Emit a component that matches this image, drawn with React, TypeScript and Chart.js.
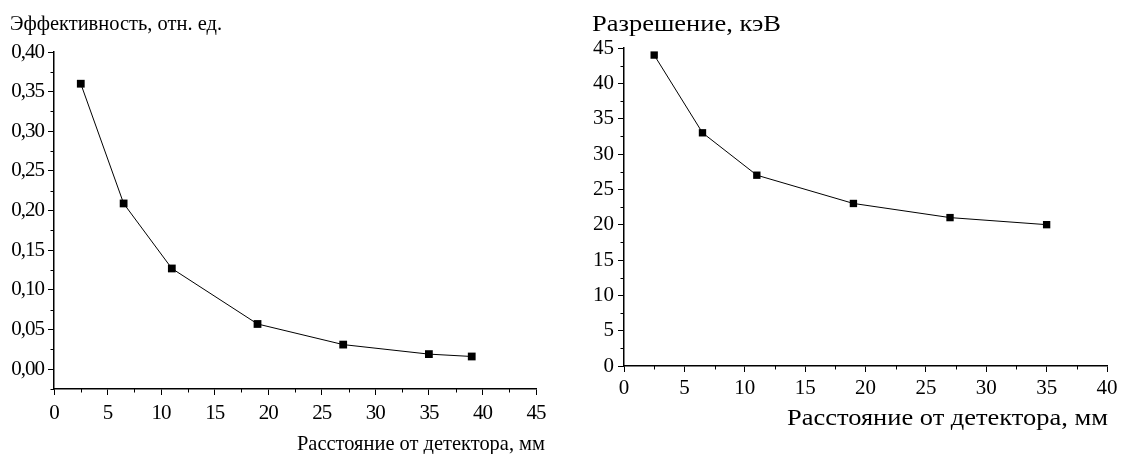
import React, { useEffect, useRef } from 'react';
import { Chart, registerables } from 'chart.js';

Chart.register(...registerables);

// ---- data ----
const EFF_DIST = [2.5, 6.5, 11, 19, 27, 35, 39];
const EFF_VALUES = [0.36, 0.209, 0.127, 0.057, 0.031, 0.019, 0.016];
const RES_DIST = [2.5, 6.5, 11, 19, 27, 35];
const RES_VALUES = [44, 33, 27, 23, 21, 20];

const EFF_X_TICKS = [0, 5, 10, 15, 20, 25, 30, 35, 40, 45];
const EFF_Y_TICKS = [0, 0.05, 0.1, 0.15, 0.2, 0.25, 0.3, 0.35, 0.4];
const RES_X_TICKS = [0, 5, 10, 15, 20, 25, 30, 35, 40];
const RES_Y_TICKS = [0, 5, 10, 15, 20, 25, 30, 35, 40, 45];

const EFF_Y_TITLE = 'Эффективность, отн. ед.';
const RES_Y_TITLE = 'Разрешение, кэВ';
const X_TITLE = 'Расстояние от детектора, мм';

const FAMILY = '"Liberation Serif", "Times New Roman", serif';

function drawFitted(ctx: any, text: string, font: string, x: number, y: number, width: number, alignRight: boolean) {
  ctx.save();
  ctx.letterSpacing = '0px';
  ctx.font = font;
  ctx.textAlign = 'left';
  ctx.textBaseline = 'alphabetic';
  const w = ctx.measureText(text).width;
  const sx = width / w;
  ctx.translate(alignRight ? x - width : x, y);
  ctx.scale(sx, 1);
  ctx.fillText(text, 0, 0);
  ctx.restore();
}

const decorPlugin = {
  id: 'decor',
  beforeUpdate(chart: any, _a: any, o: any) {
    chart.ctx.letterSpacing = o.letterSpacing || '0px';
  },
  beforeDraw(chart: any, _a: any, o: any) {
    chart.ctx.letterSpacing = o.letterSpacing || '0px';
  },
  afterDraw(chart: any, _a: any, o: any) {
    const { ctx, chartArea, scales } = chart;
    const xs = scales.x;
    const ys = scales.y;
    ctx.save();
    ctx.strokeStyle = '#000';
    ctx.lineWidth = 1;
    const xt: number[] = o.xTicks;
    const yt: number[] = o.yTicks;
    ctx.beginPath();
    for (let i = 0; i < xt.length - 1; i++) {
      const px = Math.round(xs.getPixelForValue((xt[i] + xt[i + 1]) / 2)) + 0.5;
      ctx.moveTo(px, chartArea.bottom);
      ctx.lineTo(px, chartArea.bottom + o.minorLen);
    }
    const ystep = yt[1] - yt[0];
    const ymid = [yt[0] - ystep / 2, ...yt.slice(0, -1).map((v, i) => (v + yt[i + 1]) / 2)];
    for (const v of ymid) {
      if (v < ys.min || v > ys.max) continue;
      const py = Math.round(ys.getPixelForValue(v)) + 0.5;
      ctx.moveTo(chartArea.left, py);
      ctx.lineTo(chartArea.left - o.minorLen, py);
    }
    ctx.stroke();
    ctx.fillStyle = '#000';
    drawFitted(ctx, o.yTitle, o.yTitleFont, o.yTitleX, o.yTitleY, o.yTitleW, false);
    drawFitted(ctx, o.xTitle, o.xTitleFont, o.xTitleX, o.xTitleY, o.xTitleW, true);
    ctx.restore();
  },
};

function buildConfig(p: any): any {
  return {
    type: 'line',
    data: {
      datasets: [
        {
          data: p.xs.map((x: number, i: number) => ({ x, y: p.ys[i] })),
          borderColor: '#000',
          borderWidth: 1,
          backgroundColor: '#000',
          pointStyle: 'rect',
          pointRadius: p.pointRadius,
          pointBorderWidth: 0,
          pointBackgroundColor: '#000',
          pointBorderColor: '#000',
          tension: 0,
          fill: false,
        },
      ],
    },
    options: {
      responsive: false,
      animation: false,
      events: [],
      layout: { padding: { left: 0, top: p.padTop, right: p.padRight, bottom: 0 } },
      plugins: {
        legend: { display: false },
        tooltip: { enabled: false },
        title: { display: false },
        decor: {
          xTicks: p.xTicks,
          yTicks: p.yTicks,
          minorLen: 3.5,
          letterSpacing: p.letterSpacing,
          yTitle: p.yTitle,
          yTitleFont: p.yTitleFont,
          yTitleX: p.yTitleX,
          yTitleY: p.yTitleY,
          yTitleW: p.yTitleW,
          xTitle: X_TITLE,
          xTitleFont: p.xTitleFont,
          xTitleX: p.xTitleX,
          xTitleY: p.xTitleY,
          xTitleW: p.xTitleW,
        },
      },
      scales: {
        x: {
          type: 'linear',
          position: 'bottom',
          min: p.xMin,
          max: p.xMax,
          afterBuildTicks: (s: any) => {
            s.ticks = p.xTicks.map((v: number) => ({ value: v }));
          },
          afterFit: (s: any) => {
            s.height = p.xHeight;
          },
          grid: { drawOnChartArea: false, drawTicks: true, tickLength: 6, tickColor: '#000', tickWidth: 1 },
          border: { color: '#000', width: 1.5 },
          ticks: {
            color: '#000',
            font: { family: FAMILY, size: p.tickSize },
            padding: p.xPad,
            maxRotation: 0,
            autoSkip: false,
            callback: (v: number) => String(v),
          },
        },
        y: {
          type: 'linear',
          position: 'left',
          min: p.yMin,
          max: p.yMax,
          afterBuildTicks: (s: any) => {
            s.ticks = p.yTicks.map((v: number) => ({ value: v }));
          },
          afterFit: (s: any) => {
            s.width = p.yWidth;
          },
          grid: { drawOnChartArea: false, drawTicks: true, tickLength: 6, tickColor: '#000', tickWidth: 1 },
          border: { color: '#000', width: 1.5 },
          ticks: {
            color: '#000',
            font: { family: FAMILY, size: p.tickSize },
            padding: 4,
            autoSkip: false,
            callback: p.yFormat,
          },
        },
      },
    },
    plugins: [decorPlugin],
  };
}

function ChartCanvas({ config, width, height }: { config: any; width: number; height: number }) {
  const ref = useRef<HTMLCanvasElement | null>(null);
  useEffect(() => {
    if (!ref.current) return;
    const chart = new Chart(ref.current, config);
    return () => chart.destroy();
  }, [config]);
  return <canvas ref={ref} width={width} height={height} style={{ display: 'block', width, height }} />;
}

const effConfig = buildConfig({
  xs: EFF_DIST,
  ys: EFF_VALUES,
  xTicks: EFF_X_TICKS,
  yTicks: EFF_Y_TICKS,
  xMin: 0,
  xMax: 45,
  yMin: -0.025,
  yMax: 0.4,
  padTop: 52,
  padRight: 24,
  xHeight: 65,
  yWidth: 54,
  tickSize: 21,
  xPad: 6,
  pointRadius: 5.5,
  letterSpacing: '-1px',
  yFormat: (v: number) => v.toFixed(2).replace('.', ','),
  yTitle: EFF_Y_TITLE,
  yTitleFont: `21px ${FAMILY}`,
  yTitleX: 10,
  yTitleY: 30,
  yTitleW: 212,
  xTitleFont: `22px ${FAMILY}`,
  xTitleX: 545,
  xTitleY: 450,
  xTitleW: 248,
});

const resConfig = buildConfig({
  xs: RES_DIST,
  ys: RES_VALUES,
  xTicks: RES_X_TICKS,
  yTicks: RES_Y_TICKS,
  xMin: 0,
  xMax: 40,
  yMin: 0,
  yMax: 45,
  padTop: 48,
  padRight: 22,
  xHeight: 88,
  yWidth: 64,
  tickSize: 21,
  xPad: 4,
  pointRadius: 5.2,
  letterSpacing: '0px',
  yFormat: (v: number) => String(v),
  yTitle: RES_Y_TITLE,
  yTitleFont: `23px ${FAMILY}`,
  yTitleX: 32,
  yTitleY: 31,
  yTitleW: 189,
  xTitleFont: `23px ${FAMILY}`,
  xTitleX: 548,
  xTitleY: 425,
  xTitleW: 321,
});

export default function App() {
  return (
    <div style={{ position: 'absolute', left: 0, top: 0, width: 1129, height: 454, background: '#fff', display: 'flex' }}>
      <ChartCanvas config={effConfig} width={560} height={454} />
      <ChartCanvas config={resConfig} width={569} height={454} />
    </div>
  );
}
